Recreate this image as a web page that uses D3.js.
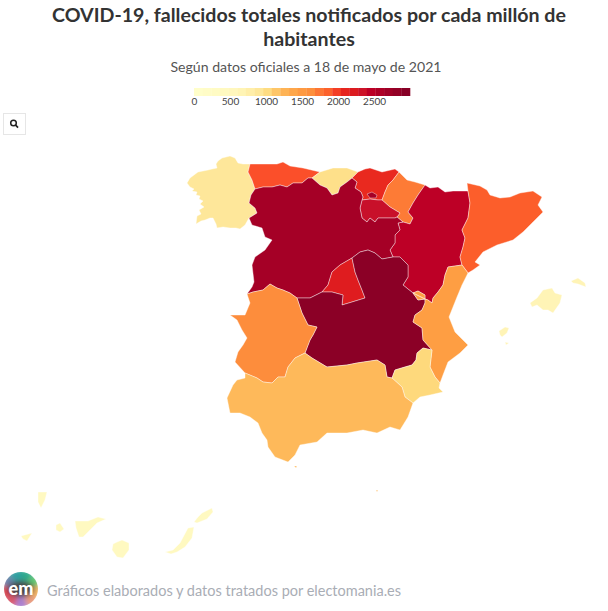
<!DOCTYPE html>
<html>
<head>
<meta charset="utf-8">
<style>
  body { margin: 0; background: #fff; }
  text { font-family: Lato, "Open Sans", sans-serif; }
</style>
<script src="https://cdn.jsdelivr.net/npm/d3@7"></script>
</head>
<body>
<div id="vis"></div>
<script>
// titles
const titleLines = ['COVID-19, fallecidos totales notificados por cada millón de', 'habitantes'];
const subtitle = 'Según datos oficiales a 18 de mayo de 2021';
const credit = 'Gráficos elaborados y datos tratados por electomania.es';

// deaths per million
const regions = ['Galicia', 'Asturias', 'Cantabria', 'País Vasco', 'Navarra', 'La Rioja', 'Aragón', 'Cataluña',
  'Castilla y León', 'Madrid', 'Castilla-La Mancha', 'C. Valenciana', 'Murcia', 'Extremadura', 'Andalucía', 'Baleares', 'Canarias'];
const deaths = [900, 1930, 980, 2050, 1720, 2380, 2450, 1880, 2640, 2200, 2900, 1460, 1050, 1650, 1200, 650, 390];

// colour bar
const colorStops = [0, 600, 750, 900, 1050, 1200, 1460, 1650, 1720, 1880, 1930, 2050, 2200, 2380, 2450, 2640, 2900, 3000];
const colorValues = ['#ffffcc', '#fff6bb', '#fff0ad', '#fee79a', '#fed97c', '#feb95a', '#fe9e43', '#fd8d3c', '#fd7b36',
  '#fc5e2b', '#fb4f2a', '#e9291f', '#df1c1f', '#c8102a', '#bd0026', '#a50026', '#8b0026', '#800026'];
const legendTicks = [0, 500, 1000, 1500, 2000, 2500];
const legendBands = d3.range(0, 3000, 120);

// outlines, in map units. shared borders are kept once and reused
const galAst = [[250,164],[248,172],[252,180],[255,189]];
const galCyl = [[255,189],[251,195],[249,203],[255,208],[257,213],[249,218]];
const astCyl = [[255,189],[263,187],[272,187],[280,185],[287,187],[293,183],[302,183],[308,178],[312,178]];
const astCan = [[320,172],[312,178]];
const canCyl = [[312,178],[320,185],[327,188],[332,195],[338,193],[340,187],[347,182],[352,178]];
const canPv = [[352,178],[358,172]];
const pvCyl = [[352,178],[357,182],[355,188],[361,192],[363,197],[362,200]];
const pvRio = [[362,200],[370,199],[378,200],[382,200]];
const pvNav = [[382,200],[385,192],[388,185],[393,180],[399,172]];
const rioCyl = [[362,200],[360,208],[362,218],[367,222],[370,218],[375,222],[378,218],[387,218],[395,218],[397,217]];
const rioNav = [[382,200],[390,207],[400,213],[397,217]];
const navCyl = [[397,217],[403,222]];
const navAra = [[403,222],[410,224],[413,218],[408,212],[413,203],[418,195],[425,185]];
const araCyl = [[403,222],[398,223],[400,230],[395,235],[395,243],[390,250],[393,257]];
const araClm = [[393,257],[400,257],[408,265],[408,277],[403,285],[413,293]];
const araCat = [[468,191],[470,203],[468,218],[462,230],[465,238],[463,247],[460,257],[462,265]];
const araVal = [[462,265],[448,267],[445,275],[443,285],[438,292],[433,298],[432,303],[428,300],[425,299]];
const rinconTop = [[425,299],[425,295],[418,291],[413,293]];
const clmRincon = [[413,293],[418,300],[425,299]];
const clmVal = [[425,299],[425,303],[422,310],[415,315],[413,322],[422,328],[423,340],[432,350]];
const valMur = [[432,350],[430,367],[435,377],[440,383]];
const clmMur = [[432,350],[423,348],[417,353],[416,360],[412,365],[405,367],[395,370],[392,378]];
const murAnd = [[392,378],[402,387],[405,397],[413,403]];
const clmAnd = [[392,378],[387,377],[385,365],[377,360],[357,363],[347,365],[327,367],[312,358],[305,353]];
const clmExt = [[305,353],[310,340],[313,335],[317,327],[308,325],[302,313],[297,298]];
const extAnd = [[305,353],[295,358],[288,367],[285,377],[278,377],[272,383],[263,382],[257,378],[245,373]];
const cylExt = [[297,298],[290,293],[283,290],[277,288],[270,284],[263,290],[253,292],[247,294]];
const cylClm = [[297,298],[310,298],[322,292]];
const madCyl = [[322,292],[328,285],[332,272],[340,265],[352,258]];
const madClm = [[322,292],[332,292],[343,295],[342,305],[352,302],[365,298],[362,290],[358,280],[355,272],[352,258]];
const cylClmN = [[352,258],[360,252],[368,250],[375,253],[382,259],[393,257]];
const catVal = [[462,265],[468,273]];

// coasts and frontiers
const galCoast = [[250,164],[243,164],[238,163],[235,158],[230,156],[226,157],[222,158],[218,161],[216,164],[217,168],[212,169],[208,170],[203,171],[198,172],[194,175],[190,178],[187,183],[190,187],[194,189],[192,191],[197,192],[196,195],[200,196],[199,199],[203,201],[200,204],[204,207],[199,210],[201,214],[197,216],[196,224],[201,221],[205,220],[210,218],[213,218],[216,224],[217,228],[223,227],[230,228],[236,228],[240,229],[245,225],[249,218]];
const astCoast = [[250,164],[263,164],[277,164],[283,162],[290,166],[303,168],[320,172]];
const canCoast = [[320,172],[333,168],[347,168],[358,172]];
const pvCoast = [[358,172],[365,169],[370,168],[382,172],[395,169],[399,172]];
const navFrontier = [[399,172],[407,180],[415,182],[425,185]];
const araFrontier = [[425,185],[430,188],[438,187],[445,192],[453,191],[468,191]];
const catCoast = [[468,191],[467,183],[480,186],[487,190],[490,195],[500,198],[510,197],[520,193],[533,191],[542,197],[538,205],[543,212],[533,222],[523,232],[513,240],[497,245],[483,252],[475,262],[480,265],[473,270],[468,273]];
const valCoast = [[468,273],[462,285],[457,297],[449,317],[455,332],[468,345],[460,353],[448,362],[443,375],[440,383]];
const murCoast = [[440,383],[439,388],[443,392],[430,395],[420,397],[413,403]];
const andCoast = [[413,403],[408,417],[400,430],[390,427],[377,433],[363,430],[347,433],[327,433],[317,442],[300,445],[295,455],[288,462],[275,457],[268,447],[267,440],[262,433],[258,423],[250,417],[240,413],[230,413],[227,398],[233,385],[237,380],[245,378],[245,373]];
const extBorder = [[245,373],[235,362],[238,352],[243,345],[247,338],[242,330],[237,320],[230,315],[245,315],[250,303],[247,294]];
const cylBorder = [[247,294],[252,287],[254,282],[252,265],[255,257],[265,250],[272,240],[265,237],[262,228],[252,225],[249,218]];

const trevino = [[367,194],[372,192],[377,195],[376,198],[370,198]];
const petilla = [[415,202],[418,201],[418,204],[415,205]];
const mallorca = [[530,303],[537,298],[543,290],[552,288],[555,293],[562,295],[560,303],[553,313],[548,310],[543,310],[537,305],[532,307]];
const menorca = [[571,281],[578,278],[585,283],[586,287],[578,284],[573,283]];
const ibiza = [[500,335],[499,331],[505,327],[509,328],[507,333],[502,337]];
const formentera = [[505,342],[509,343],[506,345]];
const laPalma = [[38,492],[47,492],[45,500],[41,508],[38,502]];
const laGomera = [[56,525],[60,523],[64,529],[60,532],[56,530]];
const elHierro = [[21,536],[32,533],[27,541],[23,539]];
const tenerife = [[75,521],[88,521],[98,517],[106,519],[97,523],[90,530],[83,537],[79,537],[76,528]];
const granCanaria = [[117,542],[122,540],[129,543],[129,550],[123,558],[117,557],[112,550],[113,544]];
const fuerteventura = [[188,528],[194,527],[192,538],[185,547],[177,552],[171,554],[165,552],[173,550],[180,543]];
const lanzarote = [[202,513],[212,508],[213,512],[207,519],[197,523],[194,522],[198,517]];
const ceuta = [[294,466],[297,466],[296,468]];
const melilla = [[376,490],[378,490],[377,492]];

// join arcs into a closed ring
const rev = a => a.slice().reverse();
const ring = (...arcs) => { const r = [].concat(...arcs); r.push(r[0]); return r; };
const closed = a => a.concat([a[0]]);

const shapes = {
  'Galicia': [ring(galCoast, rev(galCyl), rev(galAst))],
  'Asturias': [ring(astCoast, astCan, rev(astCyl), rev(galAst))],
  'Cantabria': [ring(canCoast, rev(canPv), rev(canCyl), rev(astCan))],
  'País Vasco': [ring(pvCoast, rev(pvNav), rev(pvRio), rev(pvCyl), canPv)],
  'Navarra': [ring(navFrontier, rev(navAra), rev(navCyl), rev(rioNav), pvNav), closed(petilla)],
  'La Rioja': [ring(pvRio, rioNav, rev(rioCyl))],
  'Aragón': [ring(araFrontier, araCat, araVal, rinconTop, rev(araClm), rev(araCyl), navAra)],
  'Cataluña': [ring(catCoast, rev(catVal), rev(araCat))],
  'Castilla y León': [ring(astCyl, canCyl, pvCyl, rioCyl, navCyl, araCyl, rev(cylClmN), rev(madCyl), rev(cylClm), cylExt, cylBorder, rev(galCyl)), closed(trevino)],
  'Madrid': [ring(madCyl, rev(madClm))],
  'Castilla-La Mancha': [ring(cylClmN, araClm, clmRincon, clmVal, clmMur, clmAnd, clmExt, cylClm, madClm)],
  'C. Valenciana': [ring(rev(rinconTop), clmRincon), ring(catVal, valCoast, rev(valMur), rev(clmVal), rev(araVal))],
  'Murcia': [ring(valMur, murCoast, rev(murAnd), rev(clmMur))],
  'Extremadura': [ring(rev(cylExt), rev(clmExt), extAnd, extBorder)],
  'Andalucía': [ring(rev(extAnd), rev(clmAnd), murAnd, andCoast), closed(ceuta), closed(melilla)],
  'Baleares': [closed(mallorca), closed(menorca), closed(ibiza), closed(formentera)],
  'Canarias': [closed(laPalma), closed(laGomera), closed(elHierro), closed(tenerife), closed(granCanaria), closed(fuerteventura), closed(lanzarote)]
};

const geo = {
  type: 'FeatureCollection',
  features: regions.map((name, i) => ({
    type: 'Feature',
    properties: { name: name, value: deaths[i] },
    geometry: { type: 'MultiPolygon', coordinates: shapes[name].map(r => [r]) }
  }))
};

const width = 608, height = 611;

let svg = d3.select('#vis')
  .append('svg')
  .attr('width', width)
  .attr('height', height)
  .style('display', 'block');

// title block
svg.selectAll('.title')
  .data(titleLines)
  .join('text')
  .attr('class', 'title')
  .attr('x', 309)
  .attr('y', (d, i) => 22 + i * 24)
  .attr('text-anchor', 'middle')
  .style('font-size', '19.6px')
  .style('font-weight', 700)
  .style('fill', '#333')
  .text(d => d);

svg.append('text')
  .attr('x', 306)
  .attr('y', 72)
  .attr('text-anchor', 'middle')
  .style('font-size', '14.1px')
  .style('fill', '#555')
  .text(subtitle);

// colour scale, same for map and bar
const color = d3.scaleLinear().domain(colorStops).range(colorValues);
const legendX = d3.scaleLinear().domain([0, 3000]).range([194, 410]);

svg.append('g')
  .selectAll('rect')
  .data(legendBands)
  .join('rect')
  .attr('x', d => legendX(d))
  .attr('y', 88)
  .attr('width', d => legendX(d + 120) - legendX(d) + 0.3)
  .attr('height', 8)
  .attr('fill', d => color(d + 60));

let legendAxis = svg.append('g')
  .attr('transform', 'translate(0,96)')
  .call(d3.axisBottom(legendX).tickValues(legendTicks).tickSize(0).tickPadding(2).tickFormat(d3.format('d')));
legendAxis.select('.domain').remove();
legendAxis.selectAll('text')
  .style('font-family', 'Lato, sans-serif')
  .style('font-size', '10px')
  .style('fill', '#444');

// map
const projection = d3.geoIdentity().fitExtent([[21, 156], [586, 558]], geo);
const path = d3.geoPath(projection);

svg.append('g')
  .selectAll('path')
  .data(geo.features)
  .join('path')
  .attr('d', path)
  .attr('fill', d => color(d.properties.value))
  .attr('stroke', '#fff')
  .attr('stroke-opacity', 0.4)
  .attr('stroke-width', 1);

// zoom button
let button = svg.append('g').attr('transform', 'translate(3,113)');
button.append('rect')
  .attr('x', 0.5).attr('y', 0.5)
  .attr('width', 22).attr('height', 21)
  .attr('fill', '#fff')
  .attr('stroke', '#e6e6e6');
button.append('circle')
  .attr('cx', 10.5).attr('cy', 10)
  .attr('r', 2.8)
  .attr('fill', 'none')
  .attr('stroke', '#222')
  .attr('stroke-width', 1.5);
button.append('line')
  .attr('x1', 12.7).attr('y1', 12.2)
  .attr('x2', 15).attr('y2', 14.6)
  .attr('stroke', '#222')
  .attr('stroke-width', 1.7);

// logo, coloured ring blurred together
const logoColors = ['#2fa98c', '#5ec46f', '#f2b35e', '#e89a7c', '#a97fd0', '#d8566b', '#d9434f', '#6a7fa8', '#2f9fa0'];
svg.append('defs').append('filter').attr('id', 'blur')
  .append('feGaussianBlur').attr('stdDeviation', 2.4);
let logo = svg.append('g').attr('transform', 'translate(21,589)');
const logoClip = svg.select('defs').append('clipPath').attr('id', 'logoClip');
logoClip.append('circle').attr('r', 17);
let logoInner = logo.append('g').attr('clip-path', 'url(#logoClip)');
let logoBlur = logoInner.append('g').attr('filter', 'url(#blur)');
logoBlur.selectAll('path')
  .data(d3.pie().value(1).sort(null)(logoColors))
  .join('path')
  .attr('d', d3.arc().innerRadius(0).outerRadius(20))
  .attr('fill', d => d.data);
logoBlur.append('ellipse')
  .attr('rx', 13).attr('ry', 8)
  .attr('fill', '#4a4a4a');
logo.append('text')
  .attr('y', 5.5)
  .attr('text-anchor', 'middle')
  .style('font-size', '18px')
  .style('font-weight', 900)
  .style('fill', '#fff')
  .text('em');

svg.append('text')
  .attr('x', 47)
  .attr('y', 596)
  .style('font-size', '14.5px')
  .style('fill', '#a9adb5')
  .text(credit);
</script>
</body>
</html>
